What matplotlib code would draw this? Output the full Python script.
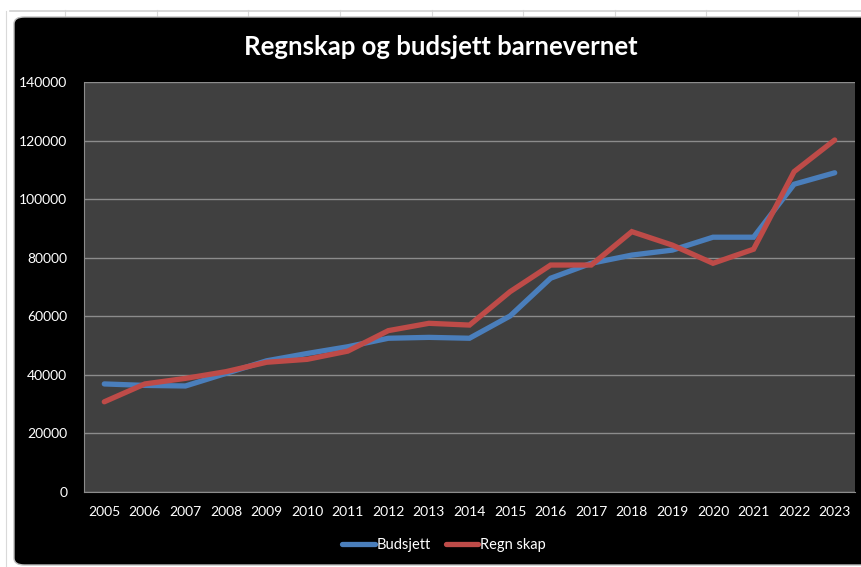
import matplotlib.pyplot as plt
from matplotlib.patches import FancyBboxPatch
from matplotlib.lines import Line2D

years = [str(y) for y in range(2005, 2024)]
budsjett = [36900, 36400, 36200, 40500, 44800, 47300, 49600, 52500, 52800, 52500,
            60100, 73000, 78100, 80900, 82600, 87000, 87000, 105100, 109000]
regnskap = [30800, 36900, 38800, 41100, 44300, 45300, 48100, 55100, 57600, 57000,
            68400, 77500, 77500, 88900, 84300, 78100, 82900, 109400, 120200]

plt.rcParams['font.family'] = ['Lato', 'DejaVu Sans']

fig = plt.figure(figsize=(8.61, 5.67), dpi=100)
fig.patch.set_facecolor('white')

# spreadsheet grid behind the chart
for x in [65, 157, 248, 340, 432, 523, 615, 706, 798]:
    fig.add_artist(Line2D([x / 861, x / 861], [1 - 10 / 567, 1 - 17 / 567],
                          color='#d9d9d9', lw=0.8, zorder=-2))
fig.add_artist(Line2D([10 / 861, 1], [1 - 11 / 567, 1 - 11 / 567], color='#d0d0d0',
                      lw=1.2, zorder=-2))
fig.add_artist(Line2D([6 / 861, 6 / 861], [0, 1 - 11 / 567], color='#d9d9d9', lw=0.8,
                      zorder=-2))

# black chart area
fig.add_artist(FancyBboxPatch((14 / 861, 2 / 567), 860 / 861, 548 / 567,
                              boxstyle='round,pad=0,rounding_size=0.012',
                              transform=fig.transFigure, facecolor='black',
                              edgecolor='#bfbfbf', lw=1.0, zorder=-1))

ax = fig.add_axes([84 / 861, 1 - 492 / 567, 771 / 861, 410 / 567])
ax.set_facecolor('#404040')

x = range(len(years))
ax.plot(x, budsjett, color='#4a7ebb', lw=3.8, solid_capstyle='round',
        solid_joinstyle='miter', label='Budsjett', zorder=3)
ax.plot(x, regnskap, color='#be4b48', lw=3.8, solid_capstyle='round',
        solid_joinstyle='miter', label='Regn skap', zorder=4)

ax.set_xlim(-0.5, len(years) - 0.5)
ax.set_ylim(0, 140000)
ax.set_yticks(range(0, 140001, 20000))
ax.set_xticks(list(x))
ax.set_xticklabels(years)
ax.grid(axis='y', color='#8c8c8c', lw=1.0)
ax.set_axisbelow(True)
ax.tick_params(colors='white', labelsize=10, length=0)
ax.tick_params(axis='y', pad=12)
ax.tick_params(axis='x', pad=10)
for s in ['top', 'right']:
    ax.spines[s].set_visible(False)
for s in ['left', 'bottom']:
    ax.spines[s].set_color('#8c8c8c')

fig.text(441 / 861, 1 - 47 / 567, 'Regnskap og budsjett barnevernet', color='white',
         fontsize=18.5, fontweight='bold', ha='center', va='center')

leg = fig.legend(loc='center', bbox_to_anchor=(444 / 861, 1 - 545 / 567), ncol=2,
                 frameon=False, fontsize=10.5, handlelength=2.2, handletextpad=0.15,
                 columnspacing=1.0)
for t in leg.get_texts():
    t.set_color('white')

fig.savefig('out.png', dpi=100, facecolor=fig.get_facecolor())
